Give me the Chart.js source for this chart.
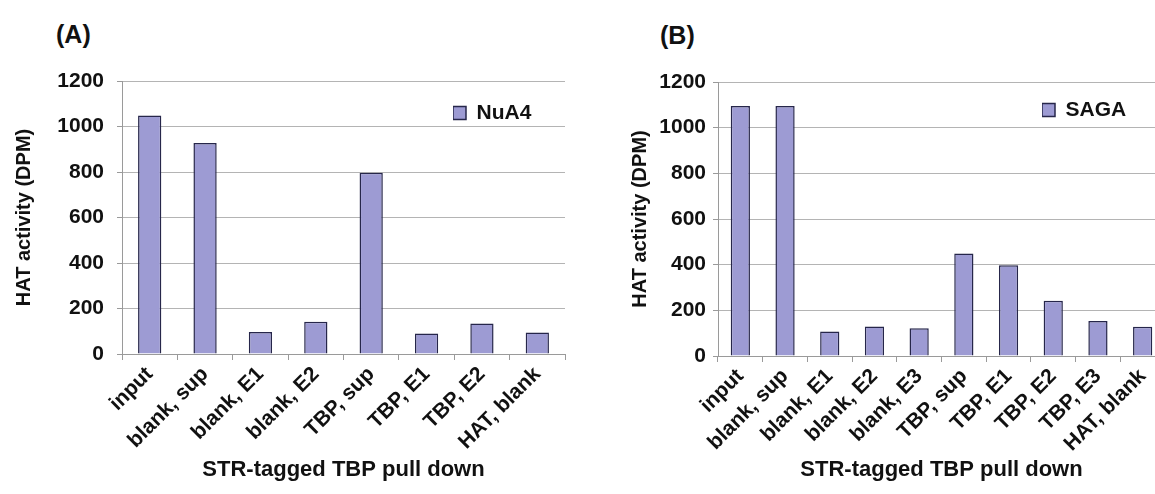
<!DOCTYPE html>
<html>
<head>
<meta charset="utf-8">
<title>HAT activity - STR-tagged TBP pull down</title>
<script src="https://cdn.jsdelivr.net/npm/chart.js@4/dist/chart.umd.min.js"></script>
<style>
  html, body { margin: 0; padding: 0; background: #fff; overflow: hidden; }
  body { width: 1155px; height: 494px; position: relative; font-family: "Liberation Sans", Arial, sans-serif; }
  canvas { position: absolute; top: 0; }
  #chartA { left: 0; }
  #chartB { left: 615px; }
  .panel { position: absolute; font-weight: bold; font-size: 25px; color: #111; }
</style>
</head>
<body>
<div class="panel" style="left:56px; top:20px;">(A)</div>
<div class="panel" style="left:660px; top:21px;">(B)</div>
<canvas id="chartA" width="580" height="494"></canvas>
<canvas id="chartB" width="560" height="494"></canvas>
<script>
// Panel A: NuA4 HAT activity
const labelsA = ["input", "blank, sup", "blank, E1", "blank, E2", "TBP, sup", "TBP, E1", "TBP, E2", "HAT, blank"];
const valuesA = [1048, 928, 97, 142, 797, 90, 134, 95];

// Panel B: SAGA HAT activity
const labelsB = ["input", "blank, sup", "blank, E1", "blank, E2", "blank, E3", "TBP, sup", "TBP, E1", "TBP, E2", "TBP, E3", "HAT, blank"];
const valuesB = [1095, 1095, 107, 129, 122, 449, 397, 242, 153, 128];

const yTicks = [0, 200, 400, 600, 800, 1000, 1200];
const yTitle = "HAT activity (DPM)";
const xTitle = "STR-tagged TBP pull down";

const FONT = "'Liberation Sans', Arial, sans-serif";
const BAR_FILL = "#9d9bd3";
const BAR_EDGE = "#26264a";

// The built-in legend sits inside the plot; move it to the upper right corner
const legendPlace = {
  id: "legendPlace",
  afterLayout(chart, args, opts){
    const lg = chart.legend, area = chart.chartArea;
    if(!lg) return;
    const w = lg.width, h = lg.height;
    lg.left = area.right - opts.dx;
    lg.top = area.top + opts.dy;
    lg.right = lg.left + w;
    lg.bottom = lg.top + h;
  }
};

function makePanel(id, labels, values, name, o){
  const ctx = document.getElementById(id).getContext("2d");
  return new Chart(ctx, {
    type: "bar",
    data: {
      labels,
      datasets: [{
        label: name,
        data: values,
        backgroundColor: BAR_FILL,
        borderColor: BAR_EDGE,
        borderWidth: 1.5,
        categoryPercentage: 1,
        barPercentage: o.barPct
      }]
    },
    options: {
      responsive: false,
      animation: false,
      layout: { padding: { left: 0, top: o.top, right: o.right, bottom: 0 } },
      plugins: {
        tooltip: { enabled: false },
        legendPlace: { dx: o.legendDx, dy: o.legendDy },
        legend: {
          position: "chartArea",
          align: "start",
          labels: {
            color: "#111",
            boxWidth: 13,
            boxHeight: 13,
            padding: 0,
            font: { family: FONT, size: 21, weight: "bold" }
          }
        }
      },
      scales: {
        x: {
          grid: { drawOnChartArea: false, drawTicks: true, tickLength: 6, color: "#9a9a9a" },
          border: { color: "#9a9a9a", width: 1 },
          ticks: {
            autoSkip: false,
            minRotation: 45,
            maxRotation: 45,
            padding: 2,
            color: "#111",
            font: { family: FONT, size: 21, weight: "bold" }
          },
          title: {
            display: true,
            text: xTitle,
            color: "#111",
            padding: { top: 0, bottom: 11 },
            font: { family: FONT, size: 22, weight: "bold" }
          },
          afterFit: s => { s.height = o.xHeight; }
        },
        y: {
          min: yTicks[0],
          max: yTicks[yTicks.length - 1],
          afterBuildTicks: s => { s.ticks = yTicks.map(v => ({ value: v })); },
          grid: { color: "#b4b4b4", lineWidth: 1, tickLength: 5, tickColor: "#9a9a9a" },
          border: { color: "#9a9a9a", width: 1 },
          ticks: {
            padding: o.yTickPad,
            color: "#111",
            callback: v => String(v),
            font: { family: FONT, size: 21, weight: "bold" }
          },
          title: {
            display: true,
            text: yTitle,
            color: "#111",
            padding: { top: o.yTitlePad, bottom: 0 },
            font: { family: FONT, size: 20, weight: "bold" }
          },
          afterFit: s => { s.width = o.yWidth; }
        }
      }
    },
    plugins: [legendPlace]
  });
}

makePanel("chartA", labelsA, valuesA, "NuA4", {
  top: 81, right: 15, xHeight: 140, yWidth: 122,
  yTickPad: 13, yTitlePad: 12, barPct: 0.42,
  legendDx: 112, legendDy: 21.5
});

makePanel("chartB", labelsB, valuesB, "SAGA", {
  top: 82, right: 10, xHeight: 138, yWidth: 103,
  yTickPad: 7, yTitlePad: 13, barPct: 0.43,
  legendDx: 123, legendDy: 17.5
});
</script>
</body>
</html>
